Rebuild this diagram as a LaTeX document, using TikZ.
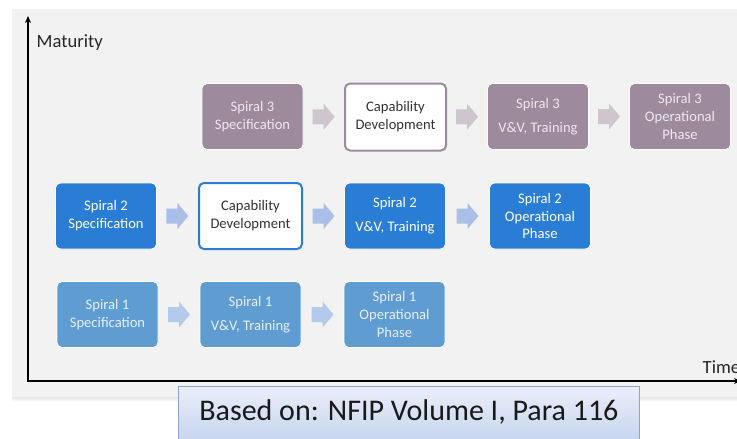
\documentclass[tikz,border=0pt]{standalone}
\usepackage{fontspec}
\setmainfont{Carlito}
\usetikzlibrary{calc,shadings,arrows.meta}
\definecolor{panel}{HTML}{F2F2F2}
\definecolor{fillA}{HTML}{9D8B9D}
\definecolor{txtA}{HTML}{EEE8EE}
\definecolor{arrA}{HTML}{CEC5CE}
\definecolor{fillB}{HTML}{2A7DD4}
\definecolor{arrB}{HTML}{A9BFE8}
\definecolor{fillC}{HTML}{5F9CD2}
\definecolor{txtC}{HTML}{E8F0F9}
\definecolor{arrC}{HTML}{B3CBE8}
\definecolor{labtop}{HTML}{EAEFF9}
\definecolor{labbot}{HTML}{C3D2EE}
\definecolor{labline}{HTML}{8FA2C9}
\tikzset{
  x=1pt,y=-1pt,
  base/.style={rounded corners=5pt, minimum width=101pt, minimum height=66pt,
    align=center, inner sep=0pt, font=\fontsize{14.6}{17.8}\selectfont, draw=white, line width=0.8pt},
  boxA/.style={base, fill=fillA, text=txtA},
  boxB/.style={base, fill=fillB, text=white},
  boxC/.style={base, fill=fillC, text=txtC},
  capA/.style={base, fill=white, draw=fillA, line width=2pt, text=black!80, minimum width=101pt, minimum height=67pt},
  capB/.style={base, fill=white, draw=fillB, line width=2pt, text=black!80, minimum width=103pt, minimum height=66pt},
  barrow/.pic={\fill[pic actions] (-11,-7.5) -- (0,-7.5) -- (0,-13) -- (11,0) -- (0,13) -- (0,7.5) -- (-11,7.5) -- cycle;},
  axis/.style={line width=1.6pt, -{Stealth[length=7pt,width=6pt]}},
  axlabel/.style={anchor=west, font=\fontsize{18.6}{21}\selectfont, text=black!85, inner sep=0pt},
}
\begin{document}
\begin{tikzpicture}
\useasboundingbox (0,0) rectangle (737,439);
\fill[white] (0,0) rectangle (737,439);
% shadow of panel
\foreach \i/\o in {1/0.10,2/0.08,3/0.06,4/0.04,5/0.02}{
  \fill[black, opacity=\o] (12,396+\i) rectangle (737,397+\i);
}
\fill[panel] (12,9) rectangle (737,397);
% axes
\coordinate (orig) at (28,381);
\coordinate (ytop) at (28,16);
\coordinate (xend) at (741,381);
\draw[axis] (orig) -- (ytop);
\draw[axis] ([xshift=-0.8pt]orig) -- (xend);
\node[axlabel] (mat) at (36.5,43) {Maturity};
\node[axlabel] (time) at (702.5,367) {Time};
% row 3
\node[boxA] (s3a) at (252.5,116.5) {Spiral 3\\Specification};
\node[capA] (s3b) at (395.5,117) {Capability\\Development};
\node[boxA] (s3c) at (538,116.5) {Spiral 3\\[6pt]V\&V, Training};
\node[boxA] (s3d) at (680,116.5) {Spiral 3\\Operational\\Phase};
% row 2
\node[boxB] (s2a) at (106,216) {Spiral 2\\Specification};
\node[capB] (s2b) at (250.5,216) {Capability\\Development};
\node[boxB] (s2c) at (395,216) {Spiral 2\\[6pt]V\&V, Training};
\node[boxB] (s2d) at (540,216) {Spiral 2\\Operational\\Phase};
% row 1
\node[boxC] (s1a) at (107.5,314.5) {Spiral 1\\Specification};
\node[boxC] (s1b) at (250.5,314.5) {Spiral 1\\[6pt]V\&V, Training};
\node[boxC] (s1c) at (394.5,314.5) {Spiral 1\\Operational\\Phase};
% block arrows
\path ($(s3a.east)!0.5!(s3b.west)$) pic[fill=arrA] {barrow};
\path ($(s3b.east)!0.5!(s3c.west)$) pic[fill=arrA] {barrow};
\path ($(s3c.east)!0.5!(s3d.west)$) pic[fill=arrA] {barrow};
\path ($(s2a.east)!0.5!(s2b.west)$) pic[fill=arrB] {barrow};
\path ($(s2b.east)!0.5!(s2c.west)$) pic[fill=arrB] {barrow};
\path ($(s2c.east)!0.5!(s2d.west)$) pic[fill=arrB] {barrow};
\path ($(s1a.east)!0.5!(s1b.west)$) pic[fill=arrC] {barrow};
\path ($(s1b.east)!0.5!(s1c.west)$) pic[fill=arrC] {barrow};
% source label
\node[top color=labtop, bottom color=labbot, draw=labline, line width=0.8pt,
  minimum width=461pt, minimum height=60pt, anchor=north west, inner sep=0pt,
  font=\fontsize{30}{34}\selectfont, text=black!90] (src) at (178,386)
  {\raisebox{12pt}{Based on: NFIP Volume I, Para 116}};
\end{tikzpicture}
\end{document}
